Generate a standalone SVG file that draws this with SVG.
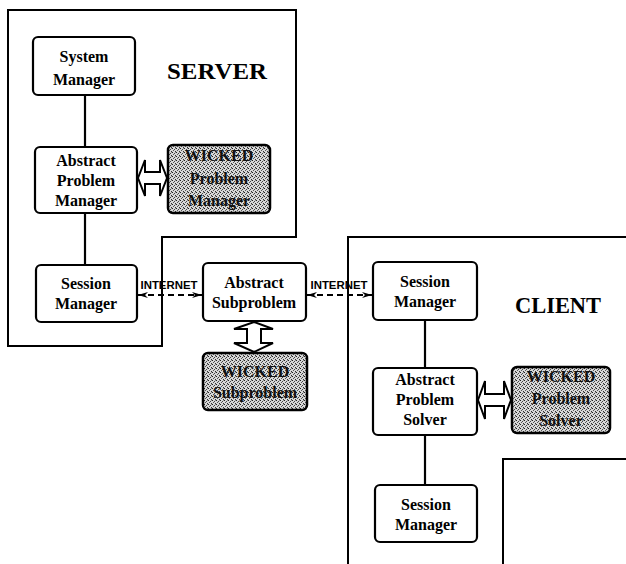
<svg xmlns="http://www.w3.org/2000/svg" width="626" height="564" viewBox="0 0 626 564">
<defs>
<pattern id="dith" width="4" height="4" patternUnits="userSpaceOnUse">
<rect width="4" height="4" fill="#d8d8d8"/>
<rect x="0" y="0" width="1" height="1" fill="#222"/>
<rect x="2" y="1" width="1" height="1" fill="#444"/>
<rect x="1" y="2" width="1" height="1" fill="#555"/>
<rect x="3" y="3" width="1" height="1" fill="#333"/>
<rect x="3" y="0" width="1" height="1" fill="#999"/>
</pattern>
<marker id="ah" viewBox="0 0 10 6" refX="10" refY="3" markerWidth="10" markerHeight="6" markerUnits="userSpaceOnUse" orient="auto-start-reverse">
<path d="M0,0 L10,3 L0,6 L3,3 Z" fill="#000"/>
</marker>
</defs>
<style>
.outline{fill:none;stroke:#000;stroke-width:2}
.box{fill:#fff;stroke:#000;stroke-width:2.2}
.gbox{fill:url(#dith);stroke:#000;stroke-width:2.5}
.t{font-family:"Liberation Serif","Times New Roman",serif;font-weight:bold;font-size:16px;text-anchor:middle;fill:#000}
.gt{font-family:"Liberation Serif","Times New Roman",serif;font-weight:bold;font-size:16px;text-anchor:middle;fill:#111}
.big{font-family:"Liberation Serif","Times New Roman",serif;font-weight:bold;font-size:24px;fill:#000}
.net{font-family:"Liberation Sans",Arial,sans-serif;font-weight:bold;font-size:10px;text-anchor:middle;fill:#000}
.line{stroke:#000;stroke-width:2.2;fill:none}
.dash{stroke:#000;stroke-width:2;fill:none;stroke-dasharray:6,4}
.dbl{fill:#fff;stroke:#000;stroke-width:2;stroke-linejoin:miter}
</style>

<g id="server-region">
<path class="outline" d="M8,10 H296 V237 H162 V346 H8 Z"/>
<text class="big" x="167" y="79" textLength="100" lengthAdjust="spacingAndGlyphs">SERVER</text>
</g>
<g id="client-region">
<path class="outline" d="M348,564 V237 H626"/>
<path class="outline" d="M503,564 V459 H626"/>
<text class="big" x="515" y="313" textLength="86" lengthAdjust="spacingAndGlyphs">CLIENT</text>
</g>

<g id="connectors">
<line class="line" x1="85" y1="95" x2="85" y2="147"/>
<line class="line" x1="85" y1="213" x2="85" y2="265"/>
<line class="line" x1="425" y1="320" x2="425" y2="368"/>
<line class="line" x1="425" y1="435" x2="425" y2="485"/>
<line class="dash" x1="138" y1="295" x2="202" y2="295" marker-start="url(#ah)" marker-end="url(#ah)"/>
<text class="net" x="169" y="289" textLength="57" lengthAdjust="spacingAndGlyphs">INTERNET</text>
<line class="dash" x1="307" y1="295" x2="372" y2="295" marker-start="url(#ah)" marker-end="url(#ah)"/>
<text class="net" x="339" y="289" textLength="57" lengthAdjust="spacingAndGlyphs">INTERNET</text>
<path class="dbl" d="M138,178 L145,160 V172 H160 V160 L167,178 L160,196 V184 H145 V196 Z"/>
<path class="dbl" d="M254,322 L273,329 H261 V343 H273 L254,352 L234,343 H247 V329 H234 Z"/>
<path class="dbl" d="M478,400 L485,381 V394 H504 V381 L511,400 L504,419 V406 H485 V419 Z"/>
</g>

<g id="system-manager">
<rect class="box" x="33" y="37" width="102" height="58" rx="5"/>
<text class="t" x="84" y="62">System</text>
<text class="t" x="84" y="85">Manager</text>
</g>
<g id="abstract-problem-manager">
<rect class="box" x="35" y="147" width="102" height="66" rx="5"/>
<text class="t" x="86" y="166">Abstract</text>
<text class="t" x="86" y="186">Problem</text>
<text class="t" x="86" y="206">Manager</text>
</g>
<g id="wicked-problem-manager">
<rect class="gbox" x="168" y="145" width="102" height="68" rx="5"/>
<text class="gt" x="219" y="161">WICKED</text>
<text class="gt" x="219" y="184">Problem</text>
<text class="gt" x="219" y="206">Manager</text>
</g>
<g id="session-manager-server">
<rect class="box" x="36" y="265" width="101" height="57" rx="5"/>
<text class="t" x="86" y="289">Session</text>
<text class="t" x="86" y="309">Manager</text>
</g>
<g id="abstract-subproblem">
<rect class="box" x="203" y="263" width="103" height="58" rx="5"/>
<text class="t" x="254" y="288">Abstract</text>
<text class="t" x="254" y="308">Subproblem</text>
</g>
<g id="wicked-subproblem">
<rect class="gbox" x="203" y="353" width="104" height="57" rx="5"/>
<text class="gt" x="255" y="377">WICKED</text>
<text class="gt" x="255" y="398">Subproblem</text>
</g>
<g id="session-manager-client">
<rect class="box" x="373" y="262" width="104" height="58" rx="5"/>
<text class="t" x="425" y="287">Session</text>
<text class="t" x="425" y="307">Manager</text>
</g>
<g id="abstract-problem-solver">
<rect class="box" x="373" y="368" width="104" height="67" rx="5"/>
<text class="t" x="425" y="385">Abstract</text>
<text class="t" x="425" y="405">Problem</text>
<text class="t" x="425" y="425">Solver</text>
</g>
<g id="wicked-problem-solver">
<rect class="gbox" x="512" y="367" width="98" height="66" rx="5"/>
<text class="gt" x="561" y="382">WICKED</text>
<text class="gt" x="561" y="404">Problem</text>
<text class="gt" x="561" y="426">Solver</text>
</g>
<g id="session-manager-bottom">
<rect class="box" x="375" y="485" width="102" height="57" rx="5"/>
<text class="t" x="426" y="510">Session</text>
<text class="t" x="426" y="530">Manager</text>
</g>
</svg>
